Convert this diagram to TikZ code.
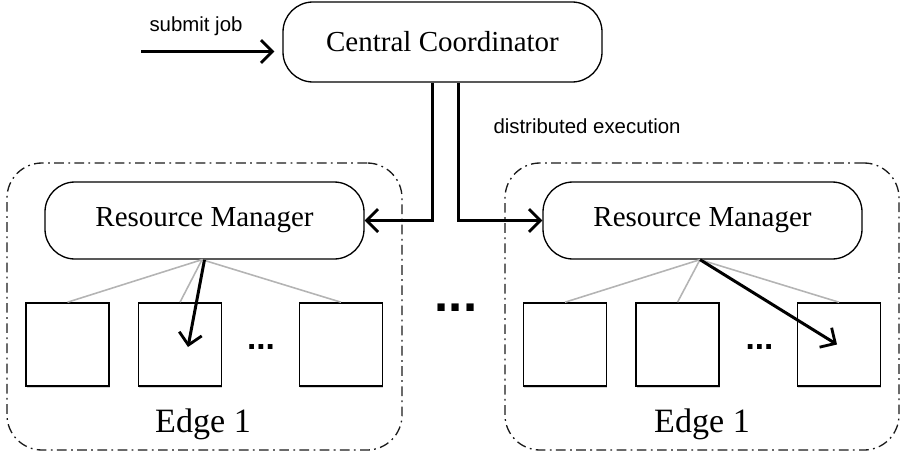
\documentclass[tikz,border=0pt]{standalone}
\usepackage{fontspec}
\setmainfont{Liberation Serif}
\setsansfont{Liberation Sans}
\usetikzlibrary{arrows.meta, shadows}
\definecolor{linkgray}{HTML}{B4B4B4}
\definecolor{edgeline}{HTML}{1A1A1A}

\begin{document}
\begin{tikzpicture}[
    >={Straight Barb[length=6.5pt, width=13pt, line width=1.6pt]},
    line width=0.75pt,
    font=\fontsize{16.5}{18}\selectfont,
    rounded box/.style={draw, rounded corners=0.6cm, minimum width=6.38cm, align=center},
    edge area/.style={draw=edgeline, rounded corners=0.7cm, minimum height=5.74cm,
        dash pattern=on 5.5pt off 2.5pt on 1pt off 2.5pt},
    device/.style={draw, line width=0.9pt, fill=white, minimum size=1.66cm,
        drop shadow={shadow xshift=0.5pt, shadow yshift=-1pt, fill=black!35, opacity=0.5}},
    task/.style={->, line width=1.7pt},
    link/.style={linkgray, line width=0.9pt},
    note/.style={font=\sffamily\fontsize{11.6}{13}\selectfont}
]
    \useasboundingbox (0, 0) rectangle (18.14, 9.14);

    % Layout (1 unit = 50 px of the sketch):
    % Coordinator on top, two edge areas below, gap with dots in between

    % 1. Edge areas (dash-dot frames)
    \node[edge area, minimum width=7.9cm] (edgeL) at (4.09, 3.01) {};
    \node[edge area, minimum width=7.88cm] (edgeR) at (14.04, 3.01) {};
    \node[anchor=base, font=\fontsize{19.4}{21}\selectfont] (labelL) at (4.06, 0.50) {Edge 1};
    \node[anchor=base, font=\fontsize{19.4}{21}\selectfont] (labelR) at (14.04, 0.50) {Edge 1};

    % 2. Central coordinator
    \node[rounded box, minimum height=1.6cm] (coord) at (8.85, 8.30) {Central Coordinator};

    % 3. Resource managers
    \node[rounded box, minimum height=1.54cm] (rmL) at (4.09, 4.73) {Resource Manager};
    \node[rounded box, minimum height=1.54cm] (rmR) at (14.05, 4.73) {Resource Manager};

    % 4. Devices of each edge
    \node[device] (sqL1) at (1.35, 2.25) {};
    \node[device] (sqL2) at (3.60, 2.25) {};
    \node[device] (sqL3) at (6.82, 2.25) {};
    \node[device] (sqR1) at (11.30, 2.25) {};
    \node[device] (sqR2) at (13.55, 2.25) {};
    \node[device] (sqR3) at (16.78, 2.25) {};

    % Dots between devices and between edges
    \node[font=\sffamily\bfseries\fontsize{19}{20}\selectfont] (dotsL) at (5.22, 2.19) {...};
    \node[font=\sffamily\bfseries\fontsize{19}{20}\selectfont] (dotsR) at (15.19, 2.19) {...};
    \node[font=\sffamily\bfseries\fontsize{29}{30}\selectfont] (dotsM) at (9.12, 2.98) {...};

    % 5. Gray links manager -> devices
    \foreach \s in {sqL1, sqL2, sqL3} {
        \draw[link] ([xshift=-0.05cm]rmL.south) -- (\s.north);
    }
    \foreach \s in {sqR1, sqR2, sqR3} {
        \draw[link] ([xshift=-0.05cm]rmR.south) -- (\s.north);
    }

    % 6. Job flow
    \coordinate (job) at (2.82, 8.11);
    \draw[task, shorten >=0.16cm] (job) -- (job -| coord.west);
    \node[note, anchor=base] (submit) at (3.92, 8.52) {submit job};

    \draw[task] ([xshift=-0.21cm]coord.south) |- (rmL.east);
    \draw[task] ([xshift=0.31cm]coord.south) |- (rmR.west);
    \node[note, anchor=base west] (dist) at (9.74, 6.48) {distributed execution};

    % Tasks placed on devices
    \draw[task] (rmL.south) -- ([xshift=0.16cm, yshift=-0.05cm]sqL2.center);
    \draw[task] ([xshift=-0.05cm]rmR.south) -- ([xshift=-0.04cm]sqR3.center);

\end{tikzpicture}
\end{document}
